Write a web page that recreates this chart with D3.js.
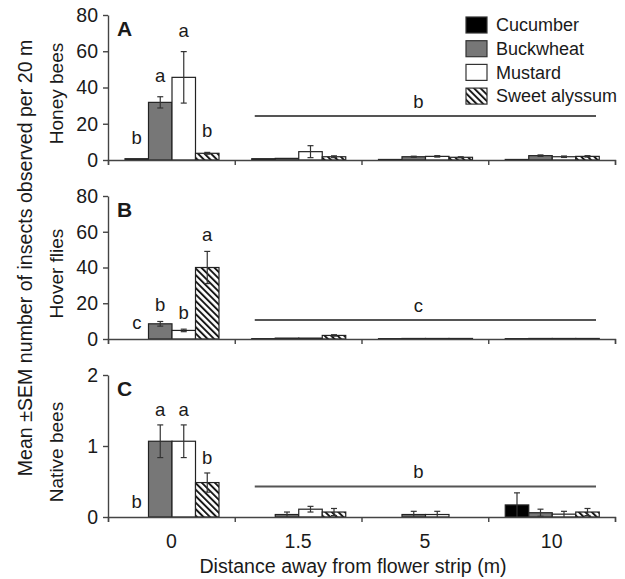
<!DOCTYPE html>
<html>
<head>
<meta charset="utf-8">
<style>
  body { margin: 0; background: white; }
  text { font-family: "Liberation Sans", Arial, sans-serif; fill: #1a1a1a; }
  .axis path, .axis line { stroke: #444; stroke-width: 1.4; }
</style>
</head>
<body>
<script src="https://d3js.org/d3.v7.min.js"></script>
<script>

// categories
var distances = ["0", "1.5", "5", "10"];
var plants = ["Cucumber", "Buckwheat", "Mustard", "Sweet alyssum"];

// one entry per panel
var panelTags = ["A", "B", "C"];
var insectNames = ["Honey bees", "Hover flies", "Native bees"];
var yMaxes = [80, 80, 2];
var yTickValues = [[0, 20, 40, 60, 80], [0, 20, 40, 60, 80], [0, 1, 2]];

// means and SEM, rows = distance, columns = plant
var honeyMean = [[0.7, 31.8, 45.6, 3.7], [0.7, 0.9, 4.6, 1.8], [0.3, 1.8, 2.0, 1.5], [0.3, 2.4, 1.8, 2.0]];
var honeySem  = [[0, 3.1, 14.2, 0.5], [0, 0, 3.3, 0.5], [0, 0.3, 0.4, 0.3], [0, 0.4, 0.4, 0.4]];
var hoverMean = [[0, 8.5, 4.8, 40], [0.2, 0.5, 0.5, 2.0], [0.2, 0.3, 0.3, 0.3], [0.2, 0.3, 0.3, 0.3]];
var hoverSem  = [[0, 1.3, 0.7, 9], [0, 0, 0, 0.4], [0, 0, 0, 0], [0, 0, 0, 0]];
var nativeMean = [[0, 1.067, 1.067, 0.485], [0, 0.035, 0.11, 0.07], [0, 0.035, 0.035, 0], [0.17, 0.06, 0.04, 0.07]];
var nativeSem  = [[0, 0.23, 0.23, 0.135], [0, 0.035, 0.04, 0.05], [0, 0.045, 0.045, 0], [0.17, 0.05, 0.04, 0.05]];

// significance letters at 0 m, and the shared letter for the other distances
var honeyLetters = ["b", "a", "a", "b"];
var hoverLetters = ["c", "b", "b", "a"];
var nativeLetters = ["b", "a", "a", "b"];
var restLetters = ["b", "c", "b"];
var restLineValues = [24.3, 10.6, 0.43];

var means = [honeyMean, hoverMean, nativeMean];
var sems = [honeySem, hoverSem, nativeSem];
var letters = [honeyLetters, hoverLetters, nativeLetters];

var width = 625, height = 579;
var panelTop = [15, 196, 375];
var panelBottom = [160, 339, 517];
var letterGap = [15, 10, 9];

var fills = { "Cucumber": "#000", "Buckwheat": "#777", "Mustard": "#fff", "Sweet alyssum": "url(#hatch)" };

var svg = d3.select("body").append("svg")
  .attr("width", width)
  .attr("height", height);

var pat = svg.append("defs").append("pattern")
  .attr("id", "hatch")
  .attr("patternUnits", "userSpaceOnUse")
  .attr("width", 4.6)
  .attr("height", 4.6)
  .attr("patternTransform", "rotate(-45)");
pat.append("rect").attr("width", 4.6).attr("height", 4.6).attr("fill", "#fff");
pat.append("line").attr("x1", 1).attr("x2", 1).attr("y1", 0).attr("y2", 4.6)
  .attr("stroke", "#111").attr("stroke-width", 1.9);

var x = d3.scaleBand().domain(distances).range([108, 615]);
var xInner = d3.scaleBand().domain(plants).range([17, 111]);
var xEdges = d3.scaleLinear().domain([0, distances.length]).range([108, 615]);

panelTags.forEach(function(tag, p) {
  var y = d3.scaleLinear().domain([0, yMaxes[p]]).range([panelBottom[p], panelTop[p]]);
  var g = svg.append("g");

  // bars
  var groups = g.selectAll("g.dist").data(distances).enter().append("g")
    .attr("transform", function(d) { return "translate(" + x(d) + ",0)"; });

  groups.each(function(dist, di) {
    var rows = plants.map(function(pl, k) {
      return { plant: pl, mean: means[p][di][k], sem: sems[p][di][k] };
    });
    var gg = d3.select(this);
    gg.selectAll("rect").data(rows).enter().append("rect")
      .attr("x", function(d) { return xInner(d.plant); })
      .attr("width", xInner.bandwidth())
      .attr("y", function(d) { return y(d.mean); })
      .attr("height", function(d) { return y(0) - y(d.mean); })
      .attr("fill", function(d) { return fills[d.plant]; })
      .attr("stroke", function(d) { return d.mean > 0 ? "#222" : "none"; })
      .attr("stroke-width", 1.2);

    var errs = rows.filter(function(d) { return d.sem > 0; });
    var cx = function(d) { return xInner(d.plant) + xInner.bandwidth() / 2; };
    gg.selectAll("line.err").data(errs).enter().append("line")
      .attr("class", "err")
      .attr("x1", cx).attr("x2", cx)
      .attr("y1", function(d) { return y(Math.max(0, d.mean - d.sem)); })
      .attr("y2", function(d) { return y(d.mean + d.sem); })
      .attr("stroke", "#333").attr("stroke-width", 1.2);
    gg.selectAll("line.cap").data(errs).enter().append("line")
      .attr("class", "cap")
      .attr("x1", function(d) { return cx(d) - 3; }).attr("x2", function(d) { return cx(d) + 3; })
      .attr("y1", function(d) { return y(d.mean + d.sem); })
      .attr("y2", function(d) { return y(d.mean + d.sem); })
      .attr("stroke", "#333").attr("stroke-width", 1.2);
    gg.selectAll("line.capLow").data(errs.filter(function(d) { return d.mean - d.sem > 0; })).enter().append("line")
      .attr("class", "capLow")
      .attr("x1", function(d) { return cx(d) - 3; }).attr("x2", function(d) { return cx(d) + 3; })
      .attr("y1", function(d) { return y(d.mean - d.sem); })
      .attr("y2", function(d) { return y(d.mean - d.sem); })
      .attr("stroke", "#333").attr("stroke-width", 1.2);

    if (di == 0) {
      gg.selectAll("text.let").data(rows).enter().append("text")
        .attr("class", "let")
        .attr("x", cx)
        .attr("y", function(d) { return y(d.mean + d.sem) - letterGap[p]; })
        .attr("text-anchor", "middle")
        .style("font-size", "18.5px")
        .text(function(d, k) { return letters[p][k]; });
    }
  });

  // line for the 1.5 - 10 m group
  var lx1 = x("1.5") + 20, lx2 = x("10") + x.bandwidth() - 19;
  g.append("line")
    .attr("x1", lx1).attr("x2", lx2)
    .attr("y1", y(restLineValues[p])).attr("y2", y(restLineValues[p]))
    .attr("stroke", "#555").attr("stroke-width", 2);
  g.append("text")
    .attr("x", (lx1 + lx2) / 2 - 7)
    .attr("y", y(restLineValues[p]) - 8)
    .attr("text-anchor", "middle")
    .style("font-size", "18.5px")
    .text(restLetters[p]);

  // axes
  var ya = g.append("g").attr("class", "axis")
    .attr("transform", "translate(108,0)")
    .call(d3.axisLeft(y).tickValues(yTickValues[p]).tickFormat(d3.format("d"))
      .tickSize(5).tickPadding(5).tickSizeOuter(0));
  ya.selectAll("text").style("font-size", "19.5px").attr("fill", "#1a1a1a");

  g.append("g").attr("class", "axis")
    .attr("transform", "translate(0," + panelBottom[p] + ")")
    .call(d3.axisBottom(xEdges).ticks(distances.length).tickSize(5).tickSizeOuter(5).tickFormat(""));

  g.append("text")
    .attr("x", 117)
    .attr("y", panelTop[p] + 21)
    .style("font-size", "21px")
    .style("font-weight", "bold")
    .text(tag);

  g.append("text")
    .attr("transform", "translate(63," + ((panelTop[p] + panelBottom[p]) / 2 + 6) + ") rotate(-90)")
    .attr("text-anchor", "middle")
    .style("font-size", "19px")
    .text(insectNames[p]);
});

// distance labels under the last panel
var xa = svg.append("g")
  .attr("transform", "translate(0," + panelBottom[2] + ")")
  .call(d3.axisBottom(x).tickSize(0).tickPadding(17));
xa.select(".domain").remove();
xa.selectAll("text").style("font-size", "19.5px").attr("fill", "#1a1a1a");

svg.append("text")
  .attr("x", 353)
  .attr("y", 573)
  .attr("text-anchor", "middle")
  .style("font-size", "19.6px")
  .text("Distance away from flower strip (m)");

svg.append("text")
  .attr("transform", "translate(32,258) rotate(-90)")
  .attr("text-anchor", "middle")
  .style("font-size", "19.6px")
  .text("Mean \u00b1SEM number of insects observed per 20 m");

// legend
var legend = svg.append("g").selectAll("g").data(plants).enter().append("g")
  .attr("transform", function(d, i) { return "translate(466," + (17 + i * 23.7) + ")"; });
legend.append("rect")
  .attr("width", 21).attr("height", 16)
  .attr("fill", function(d) { return fills[d]; })
  .attr("stroke", "#333").attr("stroke-width", 1.2);
legend.append("text")
  .attr("x", 30).attr("y", 8).attr("dy", "0.35em")
  .style("font-size", "18px")
  .text(function(d) { return d; });

</script>
</body>
</html>
